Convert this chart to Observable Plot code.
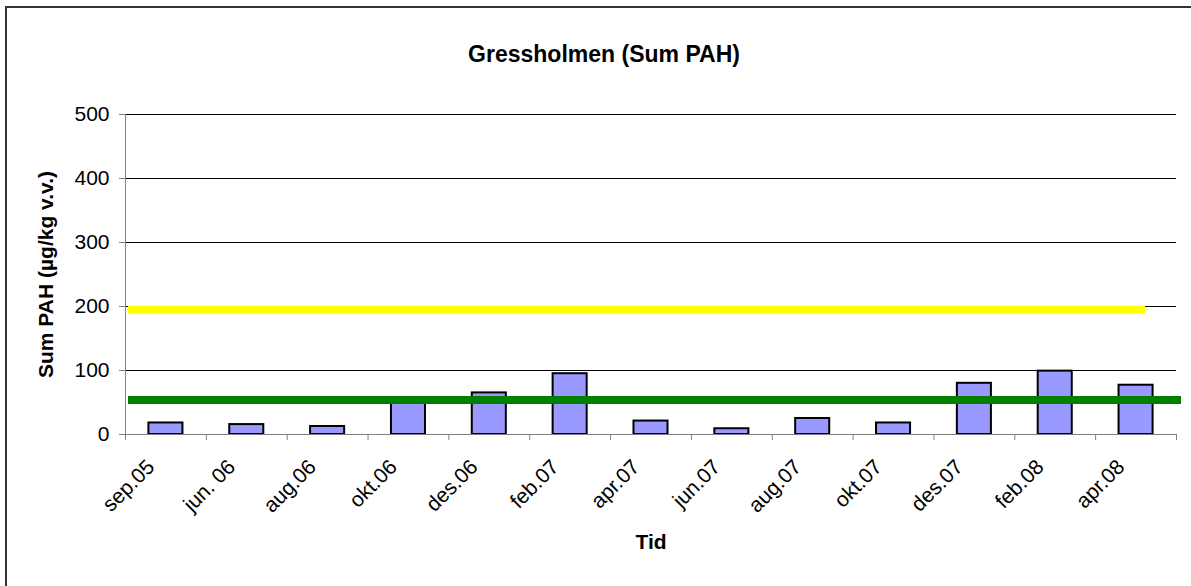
<!DOCTYPE html>
<html><head><meta charset="utf-8">
<script src="https://cdn.jsdelivr.net/npm/d3@7"></script>
<script src="https://cdn.jsdelivr.net/npm/@observablehq/plot@0.6"></script>
<style>
html,body{margin:0;padding:0;background:#fff;overflow:hidden;width:1191px;height:586px}
#wrap{position:relative;width:1191px;height:586px}
#frame{position:absolute;left:5px;top:6px;width:1300px;height:700px;border:2px solid #333;box-sizing:border-box;pointer-events:none}
#chart{position:absolute;left:0;top:0}
</style></head><body>
<div id="wrap"><div id="frame"></div><div id="chart"></div></div>
<script>
const dates = ["sep.05","jun. 06","aug.06","okt.06","des.06","feb.07","apr.07","jun.07","aug.07","okt.07","des.07","feb.08","apr.08"];
const values = [18, 15.5, 12.5, 50, 65, 95, 21, 9, 25, 18, 80, 99, 77];
const yTicks = [0, 100, 200, 300, 400, 500];
const limitHigh = [195];
const limitLow = [54];
const title = "Gressholmen (Sum PAH)";
const yLabel = "Sum PAH (µg/kg v.v.)";
const xLabel = "Tid";

const data = dates.map((d, i) => ({date: d, idx: i, value: values[i]}));

const chart = Plot.plot({
  width: 1191, height: 586,
  marginLeft: 125, marginRight: 15, marginTop: 114, marginBottom: 152,
  style: {fontFamily: "'Liberation Sans', Arial, sans-serif", fontSize: "21px", color: "black", background: "transparent"},
  x: {type: "linear", domain: [0, dates.length], axis: null},
  y: {domain: [0, 500], axis: null},
  marks: [
    Plot.gridY(yTicks.filter(v => v > 0), {stroke: "black", strokeOpacity: 1}),
    Plot.rectY(data, {x1: "idx", x2: d => d.idx + 1, y: "value", fill: "#9999FF", stroke: "black", strokeWidth: 2, insetLeft: 23.4, insetRight: 23.4}),
    Plot.ruleY(limitHigh, {stroke: "#FFFF00", strokeWidth: 8, insetLeft: 3, insetRight: 31}),
    Plot.ruleY(limitLow, {stroke: "#008000", strokeWidth: 8, insetLeft: 3, insetRight: -5}),
    Plot.ruleX([0], {stroke: "#808080"}),
    Plot.ruleY([0], {stroke: "#808080"}),
    Plot.axisY({ticks: yTicks, tickSize: 6, tickPadding: 10, stroke: "#808080", fill: "black", fontSize: 21, label: null}),
    Plot.axisX({ticks: d3.range(dates.length + 1), tickSize: 6, tickFormat: () => "", stroke: "#808080", label: null}),
    Plot.text(data, {x: d => d.idx + 0.5, y: 0, text: "date", rotate: -45, textAnchor: "end", dx: -15, dy: 29, fontSize: 21, fill: "black"}),
    Plot.text([title], {frameAnchor: "top", dx: -47, dy: -69, fontWeight: "bold", fontSize: 23, fill: "black"}),
    Plot.text([yLabel], {frameAnchor: "left", rotate: -90, textAnchor: "middle", dx: -79, fontWeight: "bold", fontSize: 21, fill: "black"}),
    Plot.text([xLabel], {frameAnchor: "bottom", dy: 114, fontWeight: "bold", fontSize: 21, fill: "black"})
  ]
});
document.getElementById("chart").appendChild(chart);
</script>
</body></html>
